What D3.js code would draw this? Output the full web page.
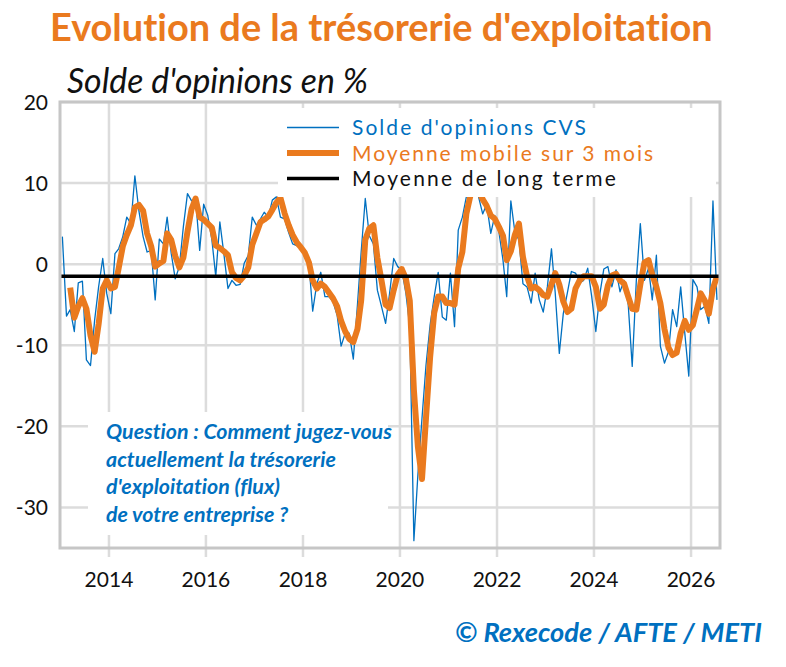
<!DOCTYPE html>
<html>
<head>
<meta charset="utf-8">
<script src="https://cdn.jsdelivr.net/npm/d3@7"></script>
<style>
  body { margin: 0; background: #fff; }
  svg { display: block; font-family: Lato, "Noto Sans", sans-serif; font-variant-ligatures: none; }
</style>
</head>
<body>
<svg id="svg"></svg>
<script>
const svgWidth = 786;
const svgHeight = 667;

// monthly series, first value = January 2013
const soldeCVS = [
  3.4, -6.4, -5.6, -8.3, -2.3, -2.1, -11.8, -12.5, -6.9, -2.8, 0.7, -3.6,
  -6.1, 1.3, 1.9, 3.4, 5.8, 5.0, 10.9, 6.5, 3.4, 1.5, 1.7, -4.4,
  3.1, 2.5, 5.8, 1.3, -1.8, -0.3, 4.6, 8.7, 7.8, 8.2, 1.7, 7.4,
  6.0, 3.0, -1.5, 5.2, 1.3, -3.0, -2.0, -2.6, -2.5, 0.1, 1.1, 5.8,
  4.8, 5.6, 6.4, 5.8, 7.9, 8.3, 5.8, 5.6, 3.9, 2.5, 2.3, 1.9,
  1.8, 0.0, -5.8, -2.4, -1.0, -4.0, -4.0, -4.6, -6.3, -10.1, -8.5, -8.5,
  -11.7, -5.0, 1.5, 8.1, 3.5, 2.5, -3.2, -5.2, -7.3, -3.6, 0.7, -0.3,
  -0.7, -3.6, -7.7, -34.1, -26.0, -19.0, -12.5, -7.5, -4.0, -1.0, -6.5, -6.9,
  -1.1, -7.7, 4.2, 5.8, 8.3, 10.5, 9.5, 8.3, 6.2, 7.4, 3.8, 6.0,
  4.0, 0.5, -4.0, 7.8, 4.0, 3.0, -2.4, -2.8, -4.8, -1.1, -4.4, -5.9,
  -2.8, 1.9, -3.5, -11.0, -6.1, -3.5, -0.9, -1.1, -2.3, -2.0, -0.5, -4.0,
  -8.3, -3.6, -0.6, -0.3, -2.8, -0.7, -3.4, -2.0, -5.0, -12.6, -2.0, 5.0,
  -2.0, -0.5, -4.4, 1.1, -10.1, -12.2, -10.8, -5.6, -7.7, -2.8, -8.5, -13.8,
  -1.9, -2.8, -5.6, -5.2, -7.3, 7.8, -4.4
];

// 3-month moving average as drawn, first value = March 2013
const moyenneMobile = [
  -2.9, -6.6, -5.2, -4.2, -5.5, -8.8, -10.8, -7.4, -3.0, -2.0,
  -3.0, -2.8, -0.5, 2.2, 3.6, 4.8, 7.0, 7.3, 6.6, 3.8, 2.2, -0.3,
  0.1, 0.4, 3.8, 3.0, 1.0, -0.4, 0.8, 4.0, 6.8, 8.1, 5.8, 5.5,
  5.0, 4.5, 2.3, 2.0, 1.6, 1.1, -1.0, -1.7, -2.0, -1.4, -0.4, 2.4,
  3.8, 5.2, 5.5, 5.9, 6.7, 7.6, 8.2, 6.3, 4.8, 3.6, 2.7, 2.1,
  1.4, 0.2, -2.0, -3.0, -2.4, -2.8, -3.5, -4.2, -5.2, -7.0, -8.3, -9.2,
  -9.6, -8.0, -4.5, 3.0, 4.4, 4.8, 0.8, -2.0, -5.0, -5.4, -3.2, -1.3,
  -0.6, -1.8, -4.5, -15.5, -22.5, -26.5, -19.0, -11.5, -6.0, -4.0, -4.0, -4.8,
  -4.8, -5.0, -0.5, 1.5, 6.2, 8.5, 9.5, 9.0, 8.0, 7.2, 6.0, 5.6,
  4.6, 3.5, 0.5, 1.6, 3.6, 5.0, 0.9, -1.5, -3.0, -2.8, -3.2, -3.8,
  -4.0, -2.5, -1.1, -2.5, -4.6, -5.9, -5.5, -3.0, -2.0, -1.5, -1.5, -1.5,
  -2.8, -5.5, -5.0, -2.6, -1.4, -1.2, -2.0, -2.4, -4.0, -5.5, -5.6, -2.5,
  0.2, 0.5, -1.3, -2.8, -4.8, -8.0, -10.3, -11.2, -10.9, -8.5, -7.0, -8.1,
  -7.5, -5.5, -3.6, -4.5, -6.1, -3.0, -1.5
];

const moyenneLongTerme = -1.5;

const yTicks = [20, 10, 0, -10, -20, -30];
const xTickYears = [2014, 2016, 2018, 2020, 2022, 2024, 2026];

const legendLabels = ["Solde d'opinions CVS", "Moyenne mobile sur 3 mois", "Moyenne de long terme"];
const questionLines = [
  "Question : Comment jugez-vous",
  "actuellement la trésorerie",
  "d'exploitation (flux)",
  "de votre entreprise ?"
];

const blue = "#0070c0";
const orange = "#ea7a1e";
const gridGrey = "#dcdcdc";
const frameGrey = "#c6c6c6";

const svg = d3.select("#svg").attr("width", svgWidth).attr("height", svgHeight);

const margin = { top: 102, right: 66, bottom: 119, left: 60 };
const chartWidth = svgWidth - margin.left - margin.right;
const chartHeight = svgHeight - margin.top - margin.bottom;

const xScale = d3.scaleTime()
  .domain([new Date(2013, 0, 1), new Date(2026, 7, 7)])
  .range([0.5, chartWidth]);
const yScale = d3.scaleLinear().domain([-35, 20]).range([chartHeight, 0]);

// scale a text's font size so that it spans the given width
function fitWidth(text, target) {
  const w = text.node().getComputedTextLength();
  const fs = parseFloat(text.style("font-size"));
  text.style("font-size", (fs * target / w) + "px");
}

// keep the font size, spread the letters to reach the given width
function spreadWidth(text, target) {
  const w = text.node().getComputedTextLength();
  const n = text.text().length;
  text.style("letter-spacing", ((target - w) / n) + "px");
}

// title
const title = svg.append("text")
  .attr("x", 50).attr("y", 41)
  .style("font-size", "32px").style("font-weight", 700)
  .attr("fill", orange)
  .text("Evolution de la trésorerie d'exploitation");
fitWidth(title, 663);

svg.append("text")
  .attr("x", 67).attr("y", 93)
  .style("font-size", "24px").style("font-style", "italic")
  .attr("fill", "#111")
  .text("Solde d'opinions en %")
  .call(t => fitWidth(t, 301));

const chart = svg.append("g")
  .attr("transform", "translate(" + margin.left + "," + margin.top + ")");

chart.append("clipPath").attr("id", "plot-clip")
  .append("rect").attr("width", chartWidth).attr("height", chartHeight);

// grid
chart.append("g").selectAll("line").data(yTicks).join("line")
  .attr("x1", 0).attr("x2", chartWidth)
  .attr("y1", d => yScale(d)).attr("y2", d => yScale(d))
  .attr("stroke", gridGrey).attr("stroke-width", 2.5);

chart.append("g").selectAll("line").data(xTickYears).join("line")
  .attr("x1", d => xScale(new Date(d, 0, 1))).attr("x2", d => xScale(new Date(d, 0, 1)))
  .attr("y1", 0).attr("y2", chartHeight + 9)
  .attr("stroke", gridGrey).attr("stroke-width", 2.5);

// question box
chart.append("rect")
  .attr("x", 28).attr("y", 310).attr("width", 300).attr("height", 123)
  .attr("fill", "#fff");

const question = chart.append("g").attr("transform", "translate(46,337)");
questionLines.forEach((line, i) => {
  question.append("text")
    .attr("y", i * 27.5)
    .style("font-size", "16.5px").style("font-style", "italic").style("font-weight", 700)
    .attr("fill", blue)
    .text(line);
});
fitWidth(question.select("text"), 286);
question.selectAll("text").style("font-size", question.select("text").style("font-size"));

// series
const lines = chart.append("g").attr("clip-path", "url(#plot-clip)");

const blueLine = d3.line()
  .x((d, i) => xScale(new Date(2013, i, 15)))
  .y(d => yScale(d));
const orangeLine = d3.line()
  .x((d, i) => xScale(new Date(2013, i + 2, 15)))
  .y(d => yScale(d));

lines.append("path").datum(soldeCVS)
  .attr("d", blueLine)
  .attr("fill", "none").attr("stroke", blue).attr("stroke-width", 1.3)
  .attr("stroke-linejoin", "round");

lines.append("path").datum(moyenneMobile)
  .attr("d", orangeLine)
  .attr("fill", "none").attr("stroke", orange).attr("stroke-width", 6)
  .attr("stroke-linejoin", "round");

lines.append("line")
  .attr("x1", 0).attr("x2", chartWidth)
  .attr("y1", yScale(moyenneLongTerme)).attr("y2", yScale(moyenneLongTerme))
  .attr("stroke", "#000").attr("stroke-width", 3.5);

// legend
const legend = chart.append("g").attr("transform", "translate(218,6)");
legend.append("rect")
  .attr("width", 438).attr("height", 89).attr("fill", "#fff");

const legendColors = [blue, orange, "#000"];
const legendWidths = [1.3, 6, 3.5];
const legendTextWidths = [236, 303, 266];
legendLabels.forEach((label, i) => {
  const yRow = 19.5 + i * 25.5;
  legend.append("line")
    .attr("x1", 9).attr("x2", 61).attr("y1", yRow).attr("y2", yRow)
    .attr("stroke", legendColors[i]).attr("stroke-width", legendWidths[i]);
  legend.append("text")
    .attr("x", 74).attr("y", yRow + 7.5)
    .style("font-size", "21px")
    .attr("fill", legendColors[i] === "#000" ? "#111" : legendColors[i])
    .text(label)
    .call(t => spreadWidth(t, legendTextWidths[i]));
});

// frame
chart.append("rect")
  .attr("width", chartWidth).attr("height", chartHeight)
  .attr("fill", "none").attr("stroke", frameGrey).attr("stroke-width", 3);

// axis labels
chart.append("g").selectAll("text").data(yTicks).join("text")
  .attr("x", -12).attr("y", d => yScale(d)).attr("dy", "0.36em")
  .attr("text-anchor", "end")
  .style("font-size", "21px").attr("fill", "#111")
  .text(d => d);

chart.append("g").selectAll("text").data(xTickYears).join("text")
  .attr("x", d => xScale(new Date(d, 0, 1))).attr("y", chartHeight + 39)
  .attr("text-anchor", "middle")
  .style("font-size", "21px").attr("fill", "#111")
  .text(d => d);

// source
svg.append("text")
  .attr("x", 455).attr("y", 642)
  .style("font-size", "20px").style("font-style", "italic").style("font-weight", 700)
  .attr("fill", blue)
  .text("© Rexecode / AFTE / METI")
  .call(t => fitWidth(t, 307));
</script>
</body>
</html>
